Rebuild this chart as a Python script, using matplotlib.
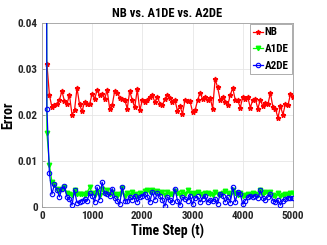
import matplotlib
matplotlib.use("Agg")
import matplotlib.pyplot as plt
import numpy as np

plt.rcParams['font.family'] = ['Roboto Condensed', 'Archivo Narrow', 'PT Sans Narrow',
                               'Liberation Sans Narrow', 'Liberation Sans', 'DejaVu Sans']

steps = list(range(100, 5001, 50))
steps_init = [50] + steps

nb = [0.0312, 0.0244, 0.0217, 0.0221, 0.0225, 0.0233, 0.0252, 0.0230, 0.0225, 0.0243,
      0.0201, 0.0210, 0.0259, 0.0223, 0.0208, 0.0228, 0.0225, 0.0223, 0.0246, 0.0235,
      0.0254, 0.0243, 0.0246, 0.0235, 0.0254, 0.0214, 0.0221, 0.0252, 0.0248, 0.0238,
      0.0235, 0.0233, 0.0214, 0.0252, 0.0232, 0.0217, 0.0256, 0.0210, 0.0232, 0.0228,
      0.0232, 0.0239, 0.0243, 0.0228, 0.0239, 0.0225, 0.0221, 0.0235, 0.0243, 0.0238,
      0.0228, 0.0232, 0.0209, 0.0219, 0.0203, 0.0232, 0.0230, 0.0230, 0.0207, 0.0210,
      0.0232, 0.0248, 0.0235, 0.0239, 0.0232, 0.0238, 0.0214, 0.0278, 0.0260, 0.0233,
      0.0239, 0.0228, 0.0221, 0.0243, 0.0259, 0.0233, 0.0232, 0.0216, 0.0239, 0.0235,
      0.0239, 0.0216, 0.0233, 0.0235, 0.0214, 0.0233, 0.0219, 0.0226, 0.0223, 0.0248,
      0.0217, 0.0214, 0.0194, 0.0219, 0.0201, 0.0225, 0.0221, 0.0246, 0.0239]

a1de = [0.30, 0.0161, 0.0092, 0.0055, 0.0047, 0.0040, 0.0035, 0.0040, 0.0043, 0.0030, 0.0029,
        0.0026, 0.0038, 0.0028, 0.0029, 0.0028, 0.0026, 0.0031, 0.0043, 0.0030, 0.0026,
        0.0033, 0.0027, 0.0040, 0.0031, 0.0037, 0.0029, 0.0033, 0.0028, 0.0024, 0.0029,
        0.0041, 0.0025, 0.0031, 0.0027, 0.0032, 0.0029, 0.0024, 0.0030, 0.0028, 0.0034,
        0.0036, 0.0033, 0.0037, 0.0032, 0.0035, 0.0030, 0.0033, 0.0026, 0.0032, 0.0028,
        0.0029, 0.0035, 0.0030, 0.0027, 0.0032, 0.0028, 0.0036, 0.0031, 0.0027, 0.0030,
        0.0033, 0.0029, 0.0025, 0.0031, 0.0030, 0.0029, 0.0027, 0.0032, 0.0028, 0.0026,
        0.0031, 0.0034, 0.0030, 0.0026, 0.0038, 0.0030, 0.0027, 0.0031, 0.0025, 0.0026,
        0.0029, 0.0027, 0.0030, 0.0028, 0.0027, 0.0036, 0.0029, 0.0032, 0.0030, 0.0033,
        0.0027, 0.0024, 0.0030, 0.0025, 0.0027, 0.0029, 0.0026, 0.0030, 0.0031]

a2de = [0.30, 0.0214, 0.0074, 0.0028, 0.0049, 0.0038, 0.0022, 0.0040, 0.0045, 0.0022, 0.0018,
        0.0004, 0.0036, 0.0009, 0.0011, 0.0014, 0.0018, 0.0014, 0.0030, 0.0025, 0.0011,
        0.0043, 0.0016, 0.0054, 0.0030, 0.0029, 0.0025, 0.0040, 0.0020, 0.0014, 0.0006,
        0.0043, 0.0014, 0.0013, 0.0022, 0.0016, 0.0025, 0.0011, 0.0022, 0.0025, 0.0029,
        0.0022, 0.0011, 0.0033, 0.0016, 0.0030, 0.0023, 0.0016, 0.0002, 0.0022, 0.0016,
        0.0011, 0.0040, 0.0014, 0.0004, 0.0022, 0.0018, 0.0014, 0.0025, 0.0006, 0.0020,
        0.0023, 0.0011, 0.0018, 0.0025, 0.0011, 0.0016, 0.0013, 0.0018, 0.0007, 0.0029,
        0.0025, 0.0011, 0.0022, 0.0009, 0.0043, 0.0011, 0.0033, 0.0029, 0.0006, 0.0014,
        0.0022, 0.0025, 0.0022, 0.0025, 0.0020, 0.0036, 0.0020, 0.0016, 0.0022, 0.0028,
        0.0014, 0.0011, 0.0016, 0.0004, 0.0014, 0.0018, 0.0020, 0.0020, 0.0020]

xticks = [0, 1000, 2000, 3000, 4000, 5000]
yticks = [0, 0.01, 0.02, 0.03, 0.04]
ytick_labels = ['0', '0.01', '0.02', '0.03', '0.04']

fig = plt.figure(figsize=(3.27, 2.45), dpi=100)
ax = fig.add_axes([0.128, 0.155, 0.768, 0.751])

ax.plot(steps, nb, color='#ff0000', marker='*', markersize=3.5, linewidth=0.9, label='NB', zorder=3)
ax.plot(steps_init, a1de, color='#00ff00', marker='v', markersize=3.2, linewidth=0.9, label='A1DE', zorder=4)
ax.plot(steps_init, a2de, color='#0000ff', marker='o', markersize=3.2, markerfacecolor='none',
        markeredgewidth=0.8, linewidth=0.9, label='A2DE', zorder=5)

ax.set_xlim(0, 5000)
ax.set_ylim(0, 0.04)
ax.set_xticks(xticks)
ax.set_yticks(yticks)
ax.set_yticklabels(ytick_labels)
ax.grid(True, color='#e6e6e6', linewidth=0.6)
ax.set_axisbelow(True)
for s in ax.spines.values():
    s.set_color('#a0a0a0')
    s.set_linewidth(0.6)
ax.tick_params(axis='both', labelsize=8, colors='#262626', length=2, width=0.5, pad=3,
               direction='in')
for lbl in ax.get_xticklabels() + ax.get_yticklabels():
    lbl.set_fontweight('bold')
ax.tick_params(axis='both', which='both', color='#808080')

ax.set_title('NB vs. A1DE vs. A2DE', fontsize=9, fontweight='bold', pad=4)
ax.set_xlabel('Time Step (t)', fontsize=10, fontweight='bold', labelpad=2)
ax.set_ylabel('Error', fontsize=10, fontweight='bold')
ax.yaxis.set_label_coords(-0.105, 0.5)

leg = ax.legend(loc='upper right', fontsize=8, handlelength=0.9, handletextpad=0.15,
                borderpad=0.3, labelspacing=0.6, fancybox=False, framealpha=1,
                borderaxespad=0.1, markerscale=1.0)
leg.get_frame().set_edgecolor('#a0a0a0')
leg.get_frame().set_linewidth(0.6)
for t in leg.get_texts():
    t.set_fontweight('bold')

fig.savefig('out.png', dpi=100)
